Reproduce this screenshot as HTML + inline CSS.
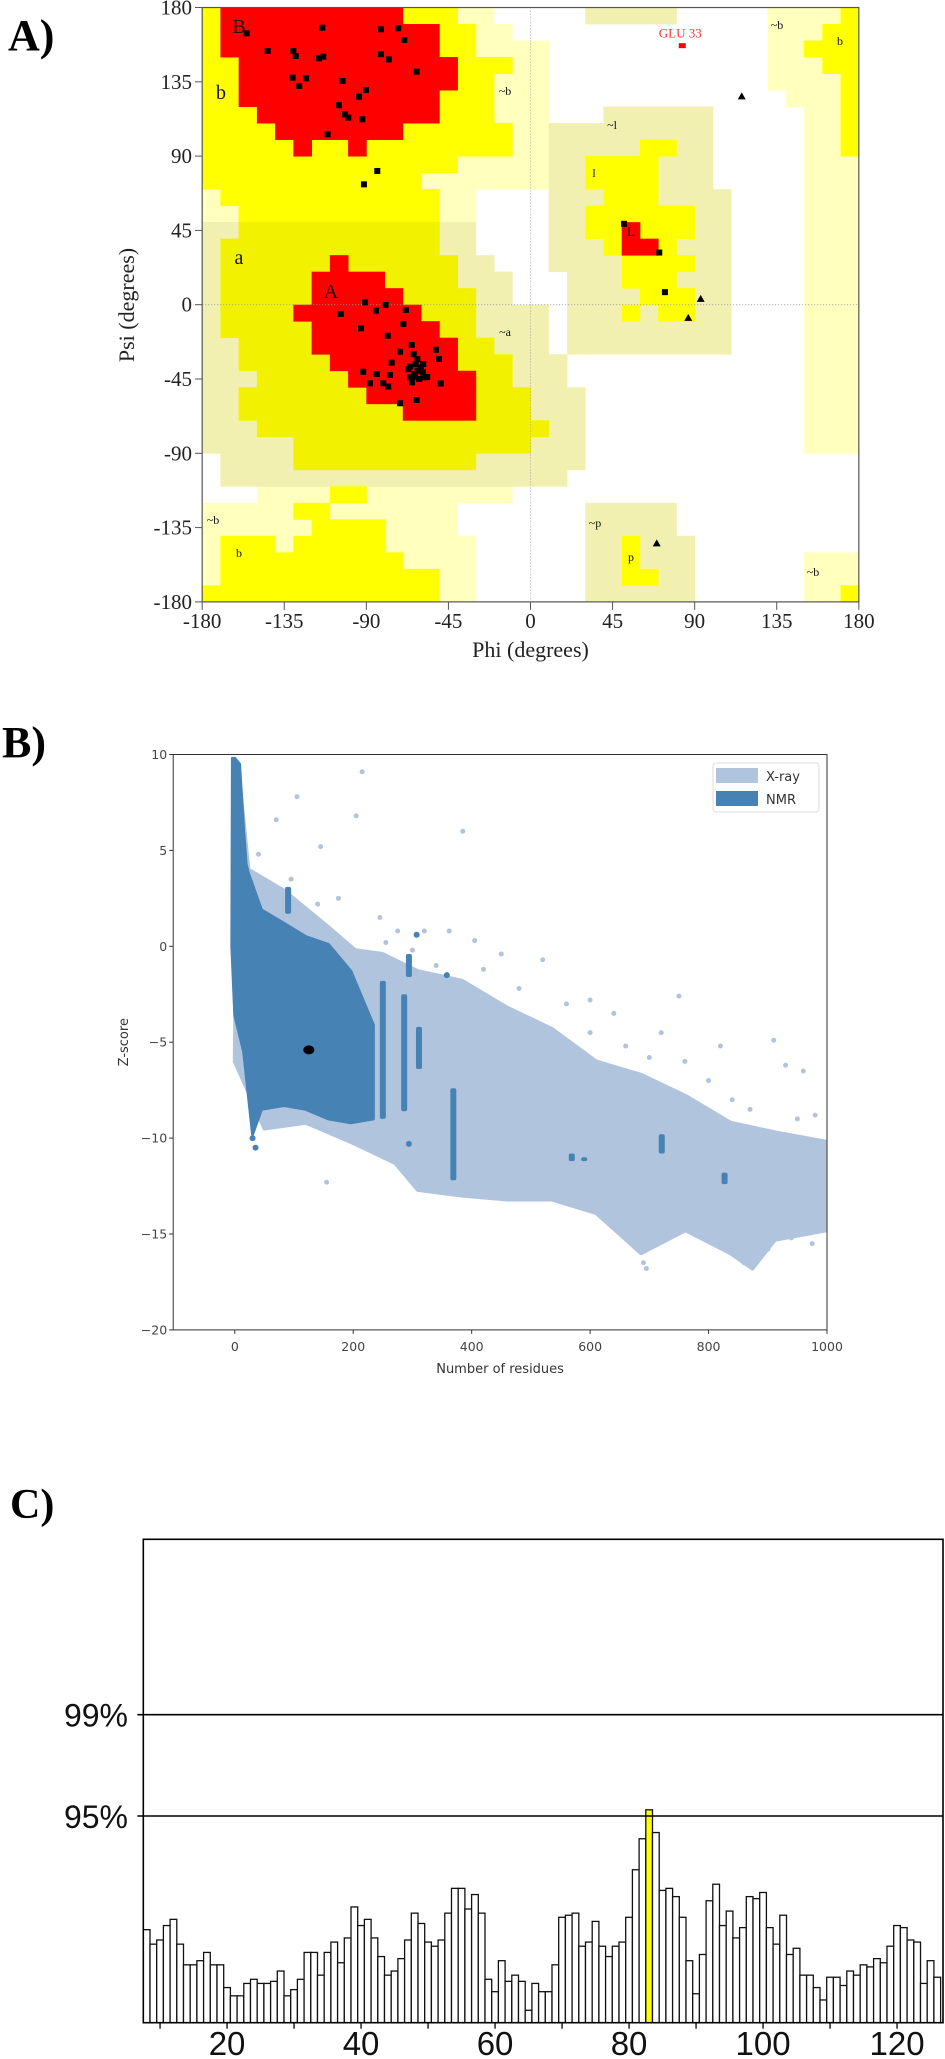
<!DOCTYPE html>
<html><head><meta charset="utf-8"><style>
html,body{margin:0;padding:0;background:#fff;}
svg{display:block;}
</style></head><body>
<svg id="fig" width="945" height="2059" viewBox="0 0 945 2059" xmlns="http://www.w3.org/2000/svg">
  <text x="8" y="50" font-family="Liberation Serif, serif" font-weight="bold" font-size="44">A)</text>
  <text x="2" y="757" font-family="Liberation Serif, serif" font-weight="bold" font-size="44">B)</text>
  <text x="10" y="1518" font-family="Liberation Serif, serif" font-weight="bold" font-size="42">C)</text>
  <g id="panelA"></g>
  <g id="panelB"></g>
  <g id="panelC"></g>
</svg>
<script>
const NS='http://www.w3.org/2000/svg';
function mk(tag,attrs,parent){const e=document.createElementNS(NS,tag);for(const k in attrs)e.setAttribute(k,attrs[k]);parent.appendChild(e);return e;}

/* ================= PANEL A: Ramachandran ================= */
const phiTicks=[-180,-135,-90,-45,0,45,90,135,180];
const psiTicks=[180,135,90,45,0,-45,-90,-135,-180];
const resPhi=[-155.6,-114.1,-82,-72.5,-69.2,-144.1,-130,-128.7,-116,-113.6,-82,-77.6,-62.4,-130.4,-123,-126.8,-103,-90.2,-94,-105,-101.7,-99.9,-92.2,-111.2,-84,-91.3,
-90.7,-104,-84.7,-79.4,-68.3,-92.9,-69.7,-78.3,-91.7,-84.3,-88,-80.7,-78,-77,-71.5,-62.4,-76.1,-71.5,-65.1,-66,-63.3,-51.8,-50.2,-49.2,-56.6,-58.8,
-62,-64,-60,-66,-61,-63,-59,-67,-65,-62,-58,-64,51.3,70.6,73.7];
const resPsi=[164.4,167.8,166.8,167.4,160.3,153.7,153.7,150.6,149.2,150.2,151.7,148.6,141.1,137.5,137.1,132.5,135.5,130,126,120.8,115.3,113.3,112.3,103.2,81,72.9,
1.4,-5.6,-3.6,-0.2,-3.2,-14.3,-11.7,-18.8,-40.6,-42,-47.6,-47.6,-49.6,-42.6,-59.7,-57.7,-35.1,-28.5,-24.4,-37.5,-43.6,-27.3,-32.9,-47.7,-43.8,-35.9,
-40,-42,-38,-44,-45,-36,-41,-39,-47,-33,-44,-30,49,31.6,7.6];
const glyPhi=[115.8,93.3,86.5,69.2];
const glyPsi=[126.2,3.5,-8,-144.6];
const outlierPhi=[83.2];
const outlierPsi=[156.9];
const outlierLabel=['GLU 33'];

function ax(phi){return 530.5+1.824*phi;}
function ay(psi){return 304.7-1.651*psi;}

const regPale=[[-180,-170,50,70],[-170,-160,50,60],[-40,-20,170,180],[-30,-10,160,170],[-30,10,110,160],[-60,10,70,110],[-50,-30,50,70],
[130,180,130,180],[140,180,120,130],[150,180,-90,120],[150,180,-180,-150],[-150,-10,-120,-110],[-180,-40,-140,-120],[-180,-30,-180,-140]];
const regKhaki=[[-180,-170,-90,50],[-170,-160,40,50],[-170,-150,-110,-60],[-150,-130,-110,-80],[-130,20,-110,-100],
[-180,-30,30,50],[-180,-20,20,30],[-180,-10,0,20],[-180,10,-30,0],[-180,20,-50,-30],[-170,30,-100,-50],
[10,40,20,110],[40,100,70,120],[20,110,-30,70],[30,80,170,180],[30,80,-180,-120],[80,90,-180,-140]];
const regYellow=[[-180,-40,170,180],[-180,-30,150,170],[-180,-10,140,150],[-180,-20,110,140],[-180,-10,90,110],[-180,-40,80,90],[-180,-60,70,80],[-170,-50,60,70],[-160,-50,50,60],
[170,180,90,180],[160,170,140,170],[150,160,150,160],[170,180,-180,-170],
[-180,-50,-180,-170],[-170,-50,-170,-160],[-170,-70,-160,-150],[-170,-140,-150,-140],[-130,-80,-150,-140],[-120,-80,-140,-130],[-130,-110,-130,-120],[-110,-90,-120,-110],
[60,80,90,100],[30,70,70,90],[40,70,60,70],[30,90,40,60],[40,80,30,40],[50,90,20,30],[50,80,10,20],[60,90,0,10],[50,60,-10,0],[70,90,-10,0],
[50,60,-170,-140],[60,70,-170,-160]];
const regDarkYellow=[[-160,-50,40,50],[-170,-50,30,40],[-170,-40,10,30],[-170,-30,-20,10],[-160,-20,-30,-20],[-160,-10,-40,-30],[-150,-10,-50,-40],[-160,0,-70,-50],[-150,10,-80,-70],[-130,0,-90,-80],[-130,-30,-100,-90]];
const regRed=[[-170,-70,170,180],[-170,-50,150,170],[-160,-40,130,150],[-160,-50,120,130],[-150,-50,110,120],[-140,-70,100,110],[-130,-120,90,100],[-100,-90,90,100],
[-110,-100,20,30],[-120,-80,10,20],[-120,-70,0,10],[-130,-60,-10,0],[-120,-50,-20,-10],[-120,-40,-30,-20],[-110,-40,-40,-30],[-100,-30,-50,-40],[-90,-30,-60,-50],[-70,-30,-70,-60],
[50,60,30,50],[60,70,30,40]];

(function(){
  const g=document.getElementById('panelA');
  const layers=[[regPale,'#ffffbe','generous-region'],[regKhaki,'#f1f0b0','generous-shaded-region'],[regYellow,'#ffff00','allowed-region'],[regDarkYellow,'#f2f200','allowed-shaded-region'],[regRed,'#ff0000','favoured-region']];
  layers.forEach(L=>{
    const lg=mk('g',{},g);
    
    
    L[0].forEach(r=>{
      const x0=ax(r[0]),x1=ax(r[1]),y0=ay(r[3]),y1=ay(r[2]);
      mk('rect',{x:x0,y:y0,width:x1-x0+0.4,height:y1-y0+0.4,fill:L[1]},lg);
    });
  });
  const zl=mk('line',{x1:ax(0),y1:ay(180),x2:ax(0),y2:ay(-180),stroke:'#999','stroke-width':0.8,'stroke-dasharray':'1,2'},g);
  
  
  const zl2=mk('line',{x1:ax(-180),y1:ay(0),x2:ax(180),y2:ay(0),stroke:'#999','stroke-width':0.8,'stroke-dasharray':'1,2'},g);
  
  
  const fr=mk('rect',{x:ax(-180),y:ay(180),width:ax(180)-ax(-180),height:ay(-180)-ay(180),fill:'none',stroke:'#555','stroke-width':1.2},g);
  
  
  const labs=[['B',239,33,20],['b',221,99,20],['a',239,264,20],['A',331,298,20],['~b',505,95,12],['~l',612,129,12],['l',594,177,12],['L',631,236,13],['~a',505,336,12],['~p',595,527,12],['p',631,561,12],['~b',777,29,12],['b',840,45,12],['~b',813,576,12],['~b',213,524,12],['b',239,557,12]];
  labs.forEach(l=>{
    const t=mk('text',{x:l[1],y:l[2],'font-family':'Liberation Serif, serif','font-size':l[3],'text-anchor':'middle',fill:'#111'},g);
    t.textContent=l[0];
    
    
  });
  for(let i=0;i<resPhi.length;i++){
    const p=mk('rect',{x:ax(resPhi[i])-3,y:ay(resPsi[i])-3,width:6,height:6,fill:'#000'},g);
    
    
  }
  for(let i=0;i<glyPhi.length;i++){
    const x=ax(glyPhi[i]),y=ay(glyPsi[i]);
    const p=mk('polygon',{points:`${x},${y-4} ${x-4},${y+3} ${x+4},${y+3}`,fill:'#000'},g);
    
    
  }
  for(let i=0;i<outlierPhi.length;i++){
    const x=ax(outlierPhi[i]),y=ay(outlierPsi[i]);
    const p=mk('rect',{x:x-3.5,y:y-2.5,width:7,height:5,fill:'#f00'},g);
    
    
    const t=mk('text',{x:x-2,y:y-8,'font-family':'Liberation Serif, serif','font-size':13,'text-anchor':'middle',fill:'#f33'},g);
    t.textContent=outlierLabel[i];
    
    
  }
  psiTicks.forEach(v=>{
    const y=ay(v);
    const tk=mk('line',{x1:195,y1:y,x2:ax(-180),y2:y,stroke:'#555','stroke-width':1},g);
    
    
    const t=mk('text',{x:192,y:y+7,'font-family':'Liberation Serif, serif','font-size':21,'text-anchor':'end',fill:'#222'},g);
    t.textContent=String(v);
    
    
  });
  phiTicks.forEach(v=>{
    const x=ax(v);
    const tk=mk('line',{x1:x,y1:ay(-180),x2:x,y2:ay(-180)+8,stroke:'#555','stroke-width':1},g);
    
    
    const t=mk('text',{x:x,y:628,'font-family':'Liberation Serif, serif','font-size':21,'text-anchor':'middle',fill:'#222'},g);
    t.textContent=String(v);
    
    
  });
  const xt=mk('text',{x:ax(0),y:657,'font-family':'Liberation Serif, serif','font-size':22,'text-anchor':'middle',fill:'#222'},g);
  xt.textContent='Phi (degrees)';
  
  
  const yt=mk('text',{x:0,y:0,transform:'translate(134,305) rotate(-90)','font-family':'Liberation Serif, serif','font-size':22,'text-anchor':'middle',fill:'#222'},g);
  yt.textContent='Psi (degrees)';
  
  
})();

/* ================= PANEL B: Z-score scatter ================= */
const bXTicks=[0,200,400,600,800,1000];
const bYTicks=[10,5,0,-5,-10,-15,-20];
const xrayUpperN=[5,23,83,158,203,249,309,384,460,535,610,686,761,837,912,1000];
const xrayUpperZ=[9.5,4,2.9,1,-0.2,-0.4,-1.3,-1.8,-3.2,-4.3,-6,-6.7,-7.8,-9.2,-9.7,-10.2];
const xrayLowerN=[1000,912,874,837,761,686,610,535,460,384,309,271,196,120,50,0];
const xrayLowerZ=[-14.8,-15.3,-16.8,-16,-14.8,-16,-13.9,-13.2,-13.2,-13,-12.7,-11.3,-10.2,-9.2,-9.5,-6];
const nmrUpperN=[-4,0,8,15,19,23,45,83,120,158,196,234];
const nmrUpperZ=[9.8,9.8,9.5,6,4.3,3.8,1.9,1.2,0.5,0.1,-1.3,-4.1];
const nmrLowerN=[234,196,158,120,83,45,30,23,15,0,-5];
const nmrLowerZ=[-9,-9.2,-9,-8.5,-8.3,-8.5,-9.8,-7.8,-5.5,-3.6,0];
const nmrStreakN=[90,250,286,311,369,294,721,827,569,590];
const nmrStreakTop=[3.1,-1.8,-2.5,-4.2,-7.4,-0.4,-9.8,-11.8,-10.8,-11];
const nmrStreakBottom=[1.7,-9,-8.6,-6.4,-12.2,-1.6,-10.8,-12.4,-11.2,-11.2];
const nmrDotN=[358,307,294,30,35];
const nmrDotZ=[-1.5,0.6,-10.3,-10,-10.5];
const xrayDotN=[215,105,70,205,385,145,40,95,140,175,245,275,320,362,405,450,520,600,750,910,930,960,100,155,700,900,990,640,720,820,
255,300,340,420,480,560,600,660,700,760,800,840,870,950,980,690,695,880,860,830,940,975];
const xrayDotZ=[9.1,7.8,6.6,6.8,6.0,5.2,4.8,3.5,2.2,2.5,1.5,0.8,0.8,0.8,0.3,-0.4,-0.7,-2.8,-2.6,-4.9,-6.2,-6.5,-9,-12.3,-15.5,-15.8,-13,-3.5,-4.5,-5.2,
0.2,-0.2,-1.0,-1.2,-2.2,-3.0,-4.5,-5.2,-5.8,-6.0,-7.0,-8.0,-8.5,-9.0,-8.8,-16.5,-16.8,-16.2,-16.5,-15.8,-15.2,-15.5];
const queryN=[125];
const queryZ=[-5.4];

function bx(n){return 234.8+0.5922*n;}
function by(z){return 946.3-19.18*z;}

(function(){
  const g=document.getElementById('panelB');
  const L=173.2,R=827,T=by(10),B=by(-20);
  const clip=mk('clipPath',{id:'bclip'},g);
  mk('rect',{x:L,y:T,width:R-L,height:B-T},clip);
  const pg=mk('g',{'clip-path':'url(#bclip)'},g);
  let pts=[];
  for(let i=0;i<xrayUpperN.length;i++)pts.push(bx(xrayUpperN[i])+','+by(xrayUpperZ[i]));
  for(let i=0;i<xrayLowerN.length;i++)pts.push(bx(xrayLowerN[i])+','+by(xrayLowerZ[i]));
  const xc=mk('polygon',{points:pts.join(' '),fill:'#b0c4de',stroke:'#b0c4de','stroke-width':4,'stroke-linejoin':'round'},pg);
  
  
  for(let i=0;i<xrayDotN.length;i++){
    const d=mk('circle',{cx:bx(xrayDotN[i]),cy:by(xrayDotZ[i]),r:2.5,fill:'#b0c4de'},pg);
    
    
  }
  pts=[];
  for(let i=0;i<nmrUpperN.length;i++)pts.push(bx(nmrUpperN[i])+','+by(nmrUpperZ[i]));
  for(let i=0;i<nmrLowerN.length;i++)pts.push(bx(nmrLowerN[i])+','+by(nmrLowerZ[i]));
  const nc=mk('polygon',{points:pts.join(' '),fill:'#4682b4',stroke:'#4682b4','stroke-width':3,'stroke-linejoin':'round'},pg);
  
  
  for(let i=0;i<nmrStreakN.length;i++){
    const s=mk('rect',{x:bx(nmrStreakN[i])-3,y:by(nmrStreakTop[i]),width:6,height:by(nmrStreakBottom[i])-by(nmrStreakTop[i]),rx:2,fill:'#4682b4'},pg);
    
    
  }
  for(let i=0;i<nmrDotN.length;i++){
    const d=mk('circle',{cx:bx(nmrDotN[i]),cy:by(nmrDotZ[i]),r:3,fill:'#4682b4'},pg);
    
    
  }
  for(let i=0;i<queryN.length;i++){
    const q=mk('ellipse',{cx:bx(queryN[i]),cy:by(queryZ[i]),rx:5.5,ry:4.5,fill:'#000'},pg);
    
    
  }
  const fr=mk('rect',{x:L,y:T,width:R-L,height:B-T,fill:'none',stroke:'#333','stroke-width':1},g);
  
  
  bYTicks.forEach(v=>{
    const y=by(v);
    const tk=mk('line',{x1:L-4,y1:y,x2:L,y2:y,stroke:'#333'},g);
    
    
    const t=mk('text',{x:L-6,y:y+4.5,'font-family':'DejaVu Sans, sans-serif','font-size':12.5,'text-anchor':'end',fill:'#444'},g);
    t.textContent=v<0?'\u2212'+Math.abs(v):String(v);
    
    
  });
  bXTicks.forEach(v=>{
    const x=bx(v);
    const tk=mk('line',{x1:x,y1:B,x2:x,y2:B+4,stroke:'#333'},g);
    
    
    const t=mk('text',{x:x,y:B+21,'font-family':'DejaVu Sans, sans-serif','font-size':12.5,'text-anchor':'middle',fill:'#444'},g);
    t.textContent=String(v);
    
    
  });
  const xt=mk('text',{x:(L+R)/2,y:B+43,'font-family':'DejaVu Sans, sans-serif','font-size':13,'text-anchor':'middle',fill:'#333'},g);
  xt.textContent='Number of residues';
  
  
  const yt=mk('text',{x:0,y:0,transform:`translate(128,${(T+B)/2}) rotate(-90)`,'font-family':'DejaVu Sans, sans-serif','font-size':13,'text-anchor':'middle',fill:'#333'},g);
  yt.textContent='Z-score';
  
  
  const lg=mk('g',{},g);
  
  
  mk('rect',{x:713,y:763,width:106,height:49,rx:3,fill:'#fff',stroke:'#ddd'},lg);
  const e1=mk('rect',{x:716,y:768,width:42,height:15,fill:'#b0c4de'},lg);
  
  
  const e2=mk('rect',{x:716,y:791,width:42,height:15,fill:'#4682b4'},lg);
  
  
  const t1=mk('text',{x:766,y:781,'font-family':'DejaVu Sans, sans-serif','font-size':13,fill:'#333'},lg);
  t1.textContent='X-ray';
  
  
  const t2=mk('text',{x:766,y:804,'font-family':'DejaVu Sans, sans-serif','font-size':13,fill:'#333'},lg);
  t2.textContent='NMR';
  
  
})();

/* ================= PANEL C: bar chart ================= */
const cFirstResidue=8;
const cValues=[.45,.38,.40,.47,.50,.38,.28,.28,.30,.34,.28,.28,.17,.13,.13,.19,.21,.19,.19,.20,.25,.13,.16,.21,.34,.34,.23,.34,.39,.29,.41,.56,.47,.50,.41,.32,
.23,.25,.31,.40,.53,.48,.39,.37,.40,.53,.65,.65,.55,.62,.53,.21,.15,.30,.20,.23,.20,.06,.19,.15,.15,.28,.51,.52,.53,.37,.39,.49,.37,.32,.37,.39,.51,.74,.89,1.03,.92,
.64,.65,.61,.51,.30,.14,.33,.59,.67,.47,.54,.41,.46,.61,.60,.63,.46,.38,.52,.33,.36,.23,.23,.17,.11,.22,.22,.18,.25,.23,.28,.27,.31,.29,.37,.47,.46,.40,.39,.19,.30,.22];
const cHighlight=[83];
const cXTicks=[20,40,60,80,100,120];
const cLevels=[1.0,1.49];
const cLevelLabels=['95%','99%'];

function cx(r){return 143.3+(r-7.5)*6.7;}
function cy(v){return 2022.7-v*206.7;}

(function(){
  const g=document.getElementById('panelC');
  const L=143.3,R=943,T=1539.3,B=cy(0);
  for(let i=0;i<cValues.length;i++){
    const r=cFirstResidue+i;
    const hl=cHighlight.indexOf(r)>=0;
    const b=mk('rect',{x:cx(r)-3.35,y:cy(cValues[i]),width:6.7,height:B-cy(cValues[i]),fill:hl?'#ffff00':'#fff',stroke:'#111','stroke-width':1.3},g);
    
    
  }
  const fr=mk('rect',{x:L,y:T,width:R-L,height:B-T,fill:'none',stroke:'#000','stroke-width':1.6},g);
  
  
  for(let i=0;i<cLevels.length;i++){
    const y=cy(cLevels[i]);
    const ln=mk('line',{x1:L-6,y1:y,x2:R,y2:y,stroke:'#000','stroke-width':1.6},g);
    
    
    const t=mk('text',{x:128,y:y+12,'font-family':'Liberation Sans, sans-serif','font-size':32,'text-anchor':'end',fill:'#111'},g);
    t.textContent=cLevelLabels[i];
    
    
  }
  for(let r=10;r<=120;r+=10){
    const tk=mk('line',{x1:cx(r),y1:B,x2:cx(r),y2:B+6,stroke:'#000','stroke-width':1.3},g);
    
    
  }
  cXTicks.forEach(v=>{
    const t=mk('text',{x:cx(v),y:2055,'font-family':'Liberation Sans, sans-serif','font-size':33,'text-anchor':'middle',fill:'#111'},g);
    t.textContent=String(v);
    
    
  });
})();
</script>
</body></html>
